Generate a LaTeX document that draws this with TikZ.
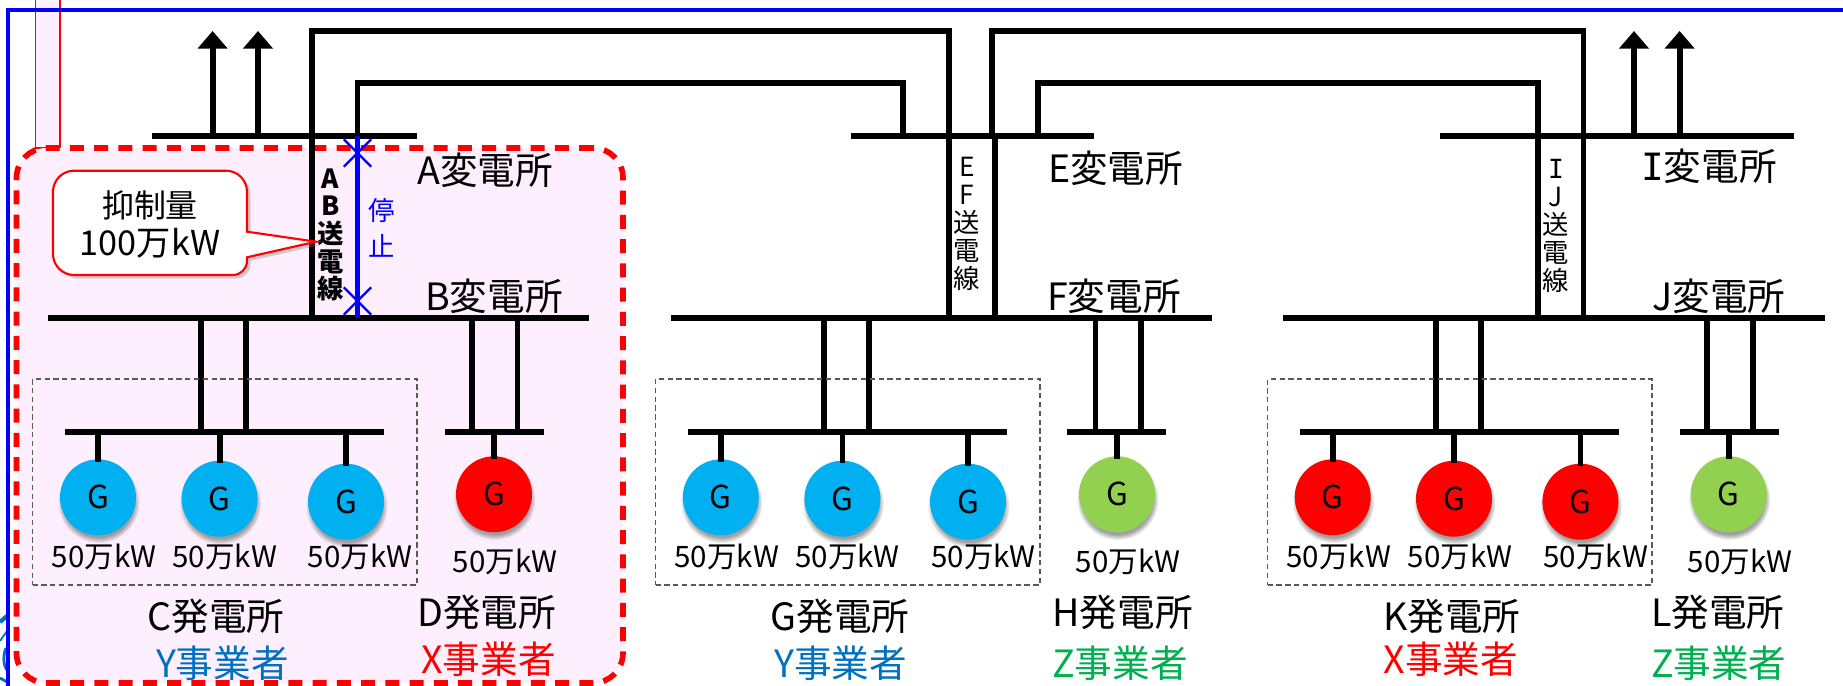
\documentclass[tikz,border=0pt]{standalone}
\usepackage{fontspec}
\setmainfont{Noto Sans CJK JP}
\newfontfamily\slabI{DejaVu Sans Mono}
\usetikzlibrary{arrows.meta,backgrounds,calc,fit,positioning,shadows,shapes.misc}
\definecolor{areapink}{HTML}{FEEFFE}
\definecolor{genblue}{HTML}{00B0F0}
\definecolor{gengreen}{HTML}{92D050}
\definecolor{texty}{HTML}{0070C0}
\definecolor{textz}{HTML}{00B050}
\tikzset{
    grid diagram/.style = {x=0.02cm, y=-0.02cm},
    line/.style       = {line width=3.3pt, line cap=rect},
    bus/.style        = {fill=black, inner sep=0pt, minimum height=0.12cm},
    outlet/.style     = {line width=3.3pt,
                         -{Triangle[length=10pt, width=16.5pt]}},
    stopped/.style    = {line width=3pt, draw=blue},
    stopmark/.style   = {draw=blue, cross out, line width=1.4pt,
                         inner sep=0pt, minimum size=0.5cm},
    gen/.style        = {circle, inner sep=0pt, minimum size=1.52cm,
                         font=\fontsize{18}{18}\selectfont,
                         circular drop shadow={shadow xshift=0.3pt,
                         shadow yshift=-2.5pt, shadow scale=1.08, opacity=.75}},
    rating/.style     = {font=\fontsize{16.8}{16.8}\selectfont, inner sep=0pt},
    station/.style    = {font=\fontsize{21.4}{21.4}\selectfont, inner sep=0pt},
    vline/.style      = {align=center, inner sep=0pt,
                         font=\fontsize{15}{15.9}\selectfont},
    group/.style      = {draw=black!65, dashed, line width=0.6pt,
                         dash pattern=on 3pt off 2pt, inner sep=0pt},
    area/.style       = {draw=red, fill=areapink, line width=3.2pt,
                         dash pattern=on 8pt off 5.8pt, rounded corners=17pt,
                         inner sep=0pt},
    callout/.style    = {draw=red, fill=white, line width=1.2pt,
                         drop shadow={shadow xshift=2pt, shadow yshift=-2pt,
                         opacity=.35}}
}
\def\busA{136.3}
\def\busB{317.7}
\def\busC{431.7}

\begin{document}
\begin{tikzpicture}[grid diagram]
\useasboundingbox (0,0) rectangle (1843,686);

% Frame and leader strip behind everything.
\coordinate (frameS) at (8,686);
\coordinate (frameC) at (8,10);
\coordinate (frameE) at (1843,10);
\coordinate (stripNW) at (35.5,-3);
\coordinate (stripSE) at (60,148);
\node[draw=red, fill=areapink, line width=1pt, inner sep=0pt,
    fit=(stripNW)(stripSE)] (strip) {};

% Logo scraps cut by the frame.
\draw[texty, line width=2.4pt] (0,622) -- (7,616);
\draw[texty, line width=1pt] (0,641) -- (7,631);
\draw[texty, line width=1.6pt] (6,648) .. controls (3,655) and (3,665) .. (7,670);
\draw[texty, line width=1.6pt] (0,678) -- (7,682);
\draw[blue, line width=1.8pt] (frameS) -- (frameC) -- (frameE);

% Area under suppression.
\coordinate (areaNW) at (16.5,148);
\coordinate (areaSE) at (623,683);
\node[area, fit=(areaNW)(areaSE)] (area) {};

% Substations.
\node[bus, minimum width=5.30cm] (busAn) at (284.5,\busA) {};
\node[bus, minimum width=10.82cm] (busAs) at (318.5,\busB) {};
\node[bus, minimum width=4.87cm] (busEn) at (972.3,\busA) {};
\node[bus, minimum width=10.82cm] (busEs) at (941.5,\busB) {};
\node[bus, minimum width=7.08cm] (busIn) at (1617,\busA) {};
\node[bus, minimum width=10.84cm] (busIs) at (1554,\busB) {};
\node[station] (staA) at (485,170) {A変電所};
\node[station] (staB) at (494,296) {B変電所};
\node[station] (staE) at (1115.5,168) {E変電所};
\node[station] (staF) at (1114,296) {F変電所};
\node[station] (staI) at (1709,166) {{\slabI I}変電所};
\node[station] (staJ) at (1719,296) {J変電所};

% Outgoing feeders at both ends.
\coordinate (outA) at (212.6,31);
\coordinate (outB) at (258,31);
\coordinate (outC) at (1634,31);
\coordinate (outD) at (1679.6,31);
\draw[outlet] (outA |- busAn) -- (outA);
\draw[outlet] (outB |- busAn) -- (outB);
\draw[outlet] (outC |- busIn) -- (outC);
\draw[outlet] (outD |- busIn) -- (outD);

% Long lines over the top.
\coordinate (topA) at (312,30.7);
\coordinate (topB) at (949,30.7);
\coordinate (topC) at (992,30.7);
\coordinate (topD) at (1583.5,30.7);
\coordinate (midA) at (357.5,83.3);
\coordinate (midB) at (903,83.3);
\coordinate (midC) at (1038,83.3);
\coordinate (midD) at (1538,83.3);
\draw[line] (busAs -| topA) -- (topA) -- (topB) -- (busEs -| topB);
\draw[line] (busEn -| topC) -- (topC) -- (topD) -- (busIs -| topD);
\draw[line] (busAn -| midA) -- (midA) -- (midB) -- (busEn -| midB);
\draw[line] (busEn -| midC) -- (midC) -- (midD) -- (busIs -| midD);
\coordinate (efB) at (994.7,200);
\draw[line] (busEn -| efB) -- (busEs -| efB);

% Line names.
\node[vline, font=\fontsize{15}{15.7}\selectfont\bfseries] (nameAB) at (330.6,235) {A\\B\\送\\電\\線};
\node[vline] (nameEF) at (967,224) {E\\F\\送\\電\\線};
\node[vline] (nameIJ) at (1556,226) {{\slabI I}\\J\\送\\電\\線};

% Stopped section of the AB line.
\node[stopmark] (stopN) at (357.5,153) {};
\node[stopmark] (stopS) at (357.5,301) {};
\draw[stopped] (busAn -| stopN) -- (busAs -| stopS);
\node[vline, text=blue] (stopText) at (381.6,228) {停\\[5pt]止};

% Suppression callout.
\draw[callout, rounded corners=12pt] (247,231.7) -- (247,170.7) -- (53,170.7)
    -- (53,275) [rounded corners=8pt] -- (247,275) [sharp corners] -- (247,257.3)
    -- (316,241.7) -- cycle;
\node[font=\fontsize{18.2}{18.2}\selectfont, inner sep=0pt] (calloutA) at (150,205) {抑制量};
\node[font=\fontsize{19.5}{19.5}\selectfont, inner sep=0pt] (calloutB) at (150,243) {100万kW};

% C plant and D plant.
\node[bus, minimum width=6.38cm] (busC) at (224.5,\busC) {};
\node[bus, minimum width=1.98cm] (busD) at (494.5,\busC) {};
\coordinate (tapCa) at (201,380);
\coordinate (tapCb) at (246,380);
\coordinate (tapDa) at (472,380);
\coordinate (tapDb) at (517.5,380);
\draw[line] (busAs -| tapCa) -- (busC -| tapCa);
\draw[line] (busAs -| tapCb) -- (busC -| tapCb);
\draw[line] (busAs -| tapDa) -- (busD -| tapDa);
\draw[line] (busAs -| tapDb) -- (busD -| tapDb);
\node[gen, fill=genblue] (genCa) at (98,497.3) {G};
\node[gen, fill=genblue] (genCb) at (219.6,498.7) {G};
\node[gen, fill=genblue] (genCc) at (346,501.7) {G};
\node[gen, fill=red] (genD) at (494,494.3) {G};
\draw[line] (genCa.north) -- (busC -| genCa);
\draw[line] (genCb.north) -- (busC -| genCb);
\draw[line] (genCc.north) -- (busC -| genCc);
\draw[line] (genD.north) -- (busD -| genD);
\node[rating] (ratCa) at (104,557.3) {50万kW};
\node[rating] (ratCb) at (224.7,557.3) {50万kW};
\node[rating] (ratCc) at (360,557.3) {50万kW};
\node[rating] (ratD) at (505,561.7) {50万kW};
\coordinate (boxCa) at (32.6,379);
\coordinate (boxCb) at (417,585);
\node[group, fit=(boxCa)(boxCb)] (boxC) {};
\node[station] (plantC) at (216,616.7) {C発電所};
\node[station] (plantD) at (486.7,612.7) {D発電所};
\node[station, text=texty] (ownerC) at (222.4,663.3) {Y事業者};
\node[station, text=red] (ownerD) at (488.6,659.3) {X事業者};

% G plant and H plant.
\node[bus, minimum width=6.38cm] (busG) at (847.2,\busC) {};
\node[bus, minimum width=1.98cm] (busH) at (1116.9,\busC) {};
\coordinate (tapGa) at (823.7,380);
\coordinate (tapGb) at (868.6,380);
\coordinate (tapHa) at (1095.5,380);
\coordinate (tapHb) at (1140.8,380);
\draw[line] (busEs -| tapGa) -- (busG -| tapGa);
\draw[line] (busEs -| tapGb) -- (busG -| tapGb);
\draw[line] (busEs -| tapHa) -- (busH -| tapHa);
\draw[line] (busEs -| tapHb) -- (busH -| tapHb);
\node[gen, fill=genblue] (genGa) at (720.8,497.3) {G};
\node[gen, fill=genblue] (genGb) at (842.4,498.7) {G};
\node[gen, fill=genblue] (genGc) at (968,501.7) {G};
\node[gen, fill=gengreen] (genH) at (1117,494.3) {G};
\draw[line] (genGa.north) -- (busG -| genGa);
\draw[line] (genGb.north) -- (busG -| genGb);
\draw[line] (genGc.north) -- (busG -| genGc);
\draw[line] (genH.north) -- (busH -| genH);
\node[rating] (ratGa) at (726.7,557.3) {50万kW};
\node[rating] (ratGb) at (847.6,557.3) {50万kW};
\node[rating] (ratGc) at (983.5,557.3) {50万kW};
\node[rating] (ratH) at (1128,561.7) {50万kW};
\coordinate (boxGa) at (655.5,379);
\coordinate (boxGb) at (1040,585);
\node[group, fit=(boxGa)(boxGb)] (boxG) {};
\node[station] (plantG) at (840,616.7) {G発電所};
\node[station] (plantH) at (1122.7,612.7) {H発電所};
\node[station, text=texty] (ownerG) at (840.6,663.3) {Y事業者};
\node[station, text=textz] (ownerH) at (1120,663.3) {Z事業者};

% K plant and L plant.
\node[bus, minimum width=6.39cm] (busK) at (1459.3,\busC) {};
\node[bus, minimum width=1.99cm] (busL) at (1729.3,\busC) {};
\coordinate (tapKa) at (1435.8,380);
\coordinate (tapKb) at (1480.8,380);
\coordinate (tapLa) at (1707.3,380);
\coordinate (tapLb) at (1752.7,380);
\draw[line] (busIs -| tapKa) -- (busK -| tapKa);
\draw[line] (busIs -| tapKb) -- (busK -| tapKb);
\draw[line] (busIs -| tapLa) -- (busL -| tapLa);
\draw[line] (busIs -| tapLb) -- (busL -| tapLb);
\node[gen, fill=red] (genKa) at (1332.7,497.3) {G};
\node[gen, fill=red] (genKb) at (1454,498.7) {G};
\node[gen, fill=red] (genKc) at (1580.4,501.7) {G};
\node[gen, fill=gengreen] (genL) at (1728.8,494.3) {G};
\draw[line] (genKa.north) -- (busK -| genKa);
\draw[line] (genKb.north) -- (busK -| genKb);
\draw[line] (genKc.north) -- (busK -| genKc);
\draw[line] (genL.north) -- (busL -| genL);
\node[rating] (ratKa) at (1338.7,557.3) {50万kW};
\node[rating] (ratKb) at (1460,557.3) {50万kW};
\node[rating] (ratKc) at (1595.8,557.3) {50万kW};
\node[rating] (ratL) at (1740,561.7) {50万kW};
\coordinate (boxKa) at (1267.7,379);
\coordinate (boxKb) at (1652,585);
\node[group, fit=(boxKa)(boxKb)] (boxK) {};
\node[station] (plantK) at (1451.7,616.7) {K発電所};
\node[station] (plantL) at (1717.9,612.7) {L発電所};
\node[station, text=red] (ownerK) at (1451,659.3) {X事業者};
\node[station, text=textz] (ownerL) at (1718.8,663.3) {Z事業者};

\end{tikzpicture}
\end{document}
